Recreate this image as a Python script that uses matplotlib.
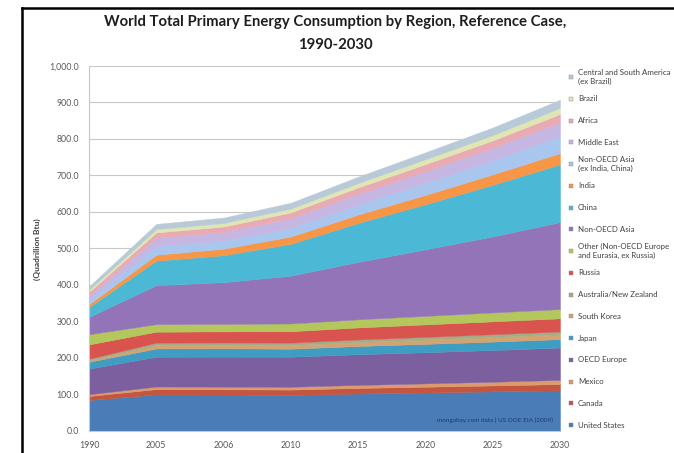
import matplotlib
matplotlib.use("Agg")
import matplotlib.pyplot as plt
from matplotlib.lines import Line2D
import numpy as np

years = ["1990", "2005", "2006", "2010", "2015", "2020", "2025", "2030"]

# Series (bottom to top of the stack), quadrillion Btu
united_states = [84.7, 100.5, 100.0, 98.9, 102.6, 105.4, 108.4, 111.5]
canada = [11.0, 14.2, 14.0, 14.5, 15.2, 15.7, 16.3, 16.9]
mexico = [5.0, 7.0, 7.3, 7.7, 8.3, 9.2, 10.1, 11.5]
oecd_europe = [70.0, 81.6, 82.3, 82.3, 84.1, 85.2, 86.8, 88.4]
japan = [18.7, 22.6, 22.8, 21.9, 22.5, 23.0, 23.1, 23.2]
south_korea = [3.8, 9.3, 9.4, 10.0, 11.0, 12.1, 12.9, 13.3]
australia_nz = [4.4, 6.5, 6.5, 6.5, 6.8, 7.0, 7.3, 7.5]
russia = [39.4, 30.1, 30.4, 31.3, 33.0, 34.2, 35.2, 36.1]
other_europe_eurasia = [27.8, 20.6, 20.7, 21.2, 22.2, 23.3, 24.4, 25.3]
non_oecd_asia = [47.5, 106.8, 114.0, 131.0, 157.2, 182.2, 208.2, 238.0]
china = [27.0, 67.1, 73.8, 87.1, 106.7, 123.4, 141.2, 158.0]
india = [7.9, 16.2, 17.7, 20.0, 22.9, 25.7, 28.6, 31.1]
other_asia = [12.6, 23.5, 22.5, 23.9, 27.6, 33.1, 38.4, 47.2]
middle_east = [11.3, 23.0, 23.8, 26.5, 29.4, 32.0, 34.2, 38.0]
africa = [9.5, 14.4, 14.5, 15.6, 17.3, 19.0, 20.4, 21.9]
brazil = [5.8, 9.2, 9.6, 10.5, 11.8, 13.3, 14.4, 16.5]
csa_ex_brazil = [9.5, 14.3, 14.9, 16.0, 17.6, 19.2, 20.9, 22.5]

series = [united_states, canada, mexico, oecd_europe, japan, south_korea,
          australia_nz, russia, other_europe_eurasia, non_oecd_asia, china,
          india, other_asia, middle_east, africa, brazil, csa_ex_brazil]
labels = ["United States", "Canada", "Mexico", "OECD Europe", "Japan",
          "South Korea", "Australia/New Zealand", "Russia",
          "Other (Non-OECD Europe\nand Eurasia, ex Russia)", "Non-OECD Asia",
          "China", "India", "Non-OECD Asia\n(ex India, China)", "Middle East",
          "Africa", "Brazil", "Central and South America\n(ex Brazil)"]
colors = ["#4a7db8", "#c4553e", "#dc9a6e", "#7b5f9f", "#3f9dc4", "#d4a36f",
          "#9fae8a", "#d9534f", "#b3c75c", "#9474b8", "#4bb9d5", "#f79646",
          "#a9c6ef", "#c6b6e2", "#e9aab3", "#dfe6b2", "#b8cad8"]

W, H = 674, 453
fig = plt.figure(figsize=(W / 100, H / 100), dpi=100)
fig.patch.set_facecolor("white")

def fx(px):
    return px / W

def fy(py):
    return 1 - py / H

left, right, top, bottom = 89, 560, 65.7, 431
ax = fig.add_axes([fx(left), fy(bottom), fx(right - left), (bottom - top) / H])

x = np.arange(len(years))
polys = ax.stackplot(x, *series, colors=colors, linewidth=0.3)
for p, c in zip(polys, colors):
    p.set_edgecolor(c)

ax.set_xlim(0, len(years) - 1)
ax.set_ylim(0, 1000)
ax.set_yticks(np.arange(0, 1001, 100))
ax.set_yticklabels([f"{v:,.1f}" for v in np.arange(0, 1001, 100)])
ax.set_xticks(x)
ax.set_xticklabels(years)
ax.tick_params(axis="both", labelsize=6.3, labelcolor="#595959", length=0, pad=7)
ax.yaxis.grid(True, color="#c8c8c8", linewidth=0.8)
ax.set_axisbelow(True)
for s in ["top", "right"]:
    ax.spines[s].set_visible(False)
ax.spines["left"].set_color("#c8c8c8")
ax.spines["bottom"].set_color("#c8c8c8")
for lab in ax.get_yticklabels() + ax.get_xticklabels():
    lab.set_family("Lato")

ax.text(0.985, 0.022, "mongabay.com data | US DOE EIA (2009)", transform=ax.transAxes,
        ha="right", va="bottom", fontsize=4.6, color="#1f3864", family="Lato")

fig.text(fx(37), fy(249), "(Quadrillion Btu)", rotation=90, ha="center", va="center",
         fontsize=6.0, fontweight="bold", color="#404040", family="Lato")

fig.text(fx(335), fy(22), "World Total Primary Energy Consumption by Region, Reference Case,",
         ha="center", va="center", fontsize=10.7, fontweight="bold", color="#1e1e1e",
         family="Lato")
fig.text(fx(335), fy(45), "1990-2030", ha="center", va="center", fontsize=10.7,
         fontweight="bold", color="#1e1e1e", family="Lato")

# Legend (reversed order, top = last series)
y0, y1 = 77, 425
n = len(labels)
for i, (lab, c) in enumerate(zip(labels[::-1], colors[::-1])):
    yc = y0 + i * (y1 - y0) / (n - 1)
    fig.add_artist(Line2D([fx(571)], [fy(yc)], marker="s", markersize=2.8,
                          color=c, markeredgecolor="#888888", markeredgewidth=0.3,
                          linestyle="none"))
    fig.text(fx(578), fy(yc), lab, ha="left", va="center", fontsize=5.7,
             color="#404040", family="Lato", linespacing=1.3)

# frame lines
fig.add_artist(Line2D([fx(22), fx(674)], [fy(8), fy(8)], color="black", linewidth=1.8))
fig.add_artist(Line2D([fx(22), fx(22)], [fy(8), fy(453)], color="black", linewidth=1.8))

fig.savefig("out.png", dpi=100)
